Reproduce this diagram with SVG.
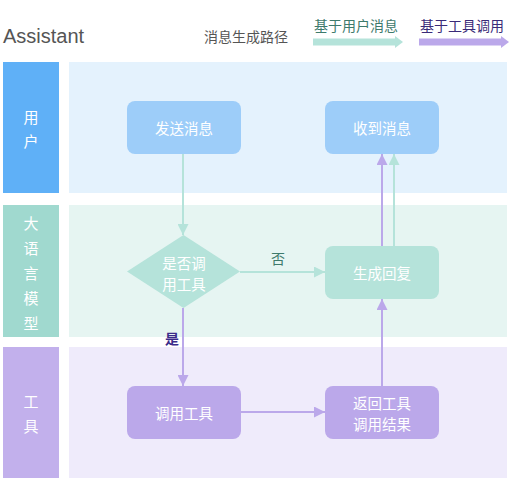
<svg xmlns="http://www.w3.org/2000/svg" width="512" height="500" viewBox="0 0 512 500">
<defs>
<style>
text{font-family:"Noto Sans CJK SC","Noto Sans",sans-serif;}
.lbl{font-size:15px;fill:#ffffff;text-anchor:middle;dominant-baseline:central;}
.nt{font-size:14.5px;fill:#ffffff;text-anchor:middle;dominant-baseline:central;}
.g{stroke:#b5e3da;stroke-width:2;fill:none;}
.p{stroke:#bba8ea;stroke-width:2;fill:none;}
</style>
<marker id="ag" viewBox="0 0 10 10" refX="10" refY="5" markerWidth="11" markerHeight="11" orient="auto" markerUnits="userSpaceOnUse">
<path d="M0,0 L10,5 L0,10 z" fill="#b5e3da"/>
</marker>
<marker id="ap" viewBox="0 0 10 10" refX="10" refY="5" markerWidth="11" markerHeight="11" orient="auto" markerUnits="userSpaceOnUse">
<path d="M0,0 L10,5 L0,10 z" fill="#bba8ea"/>
</marker>
</defs>
<rect width="512" height="500" fill="#ffffff"/>

<g id="header">
<text x="3" y="43" style="font-family:'Liberation Sans',Arial,sans-serif" font-size="20" fill="#555555">Assistant</text>
<text x="204" y="42" font-size="14" fill="#555555">消息生成路径</text>
<text x="314" y="31" font-size="14" fill="#3e7a6c">基于用户消息</text>
<text x="420" y="31" font-size="14" fill="#3a2a78">基于工具调用</text>
<path d="M313,42 H396" stroke="#b5e3da" stroke-width="7"/>
<path d="M395,36 L403,42 L395,48 z" fill="#b5e3da"/>
<path d="M419,42 H502" stroke="#bba8ea" stroke-width="7"/>
<path d="M501,36 L509,42 L501,48 z" fill="#bba8ea"/>
</g>

<g id="lane-user">
<rect x="3" y="62" width="56" height="131" fill="#5fb0f7"/>
<rect x="69" y="62" width="438" height="131" fill="#e4f2fd"/>
<text class="lbl" x="31" y="116">用</text>
<text class="lbl" x="31" y="140">户</text>
</g>
<g id="lane-llm">
<rect x="3" y="205" width="56" height="132" fill="#a0d9cf"/>
<rect x="69" y="205" width="438" height="132" fill="#e6f5f2"/>
<text class="lbl" x="31" y="222">大</text>
<text class="lbl" x="31" y="247">语</text>
<text class="lbl" x="31" y="272">言</text>
<text class="lbl" x="31" y="297">模</text>
<text class="lbl" x="31" y="322">型</text>
</g>
<g id="lane-tool">
<rect x="3" y="347" width="56" height="131" fill="#c2b0ec"/>
<rect x="69" y="347" width="438" height="131" fill="#efebfb"/>
<text class="lbl" x="31" y="400">工</text>
<text class="lbl" x="31" y="425">具</text>
</g>

<g id="connectors">
<path class="g" d="M183,154 V235" marker-end="url(#ag)"/>
<path class="p" d="M183,308 V386" marker-end="url(#ap)"/>
<path class="g" d="M240,272 H325" marker-end="url(#ag)"/>
<path class="p" d="M241,412 H325" marker-end="url(#ap)"/>
<path class="p" d="M382,386 V299" marker-end="url(#ap)"/>
<path class="p" d="M382,246 V154" marker-end="url(#ap)"/>
<path class="g" d="M394,246 V154" marker-end="url(#ag)"/>
<text x="278" y="258" font-size="14" fill="#3e7a6c" text-anchor="middle" dominant-baseline="central">否</text>
<text x="172" y="338" font-size="14" font-weight="bold" fill="#3a2a8a" text-anchor="middle" dominant-baseline="central">是</text>
</g>

<g id="n-send">
<rect x="127" y="101" width="114" height="53" rx="8" fill="#9dcdf9"/>
<text class="nt" x="184" y="127">发送消息</text>
</g>
<g id="n-recv">
<rect x="325" y="101" width="114" height="53" rx="8" fill="#9dcdf9"/>
<text class="nt" x="382" y="127">收到消息</text>
</g>
<g id="n-decide">
<path d="M183.5,235 L240,271.5 L183.5,308 L127,271.5 z" fill="#b5e3da"/>
<text class="nt" x="184" y="262">是否调</text>
<text class="nt" x="184" y="283">用工具</text>
</g>
<g id="n-reply">
<rect x="325" y="246" width="114" height="53" rx="8" fill="#b5e3da"/>
<text class="nt" x="382" y="272">生成回复</text>
</g>
<g id="n-call">
<rect x="127" y="386" width="114" height="53" rx="8" fill="#bba8ea"/>
<text class="nt" x="184" y="412">调用工具</text>
</g>
<g id="n-return">
<rect x="325" y="386" width="114" height="53" rx="8" fill="#bba8ea"/>
<text class="nt" x="382" y="402">返回工具</text>
<text class="nt" x="382" y="423">调用结果</text>
</g>
</svg>
